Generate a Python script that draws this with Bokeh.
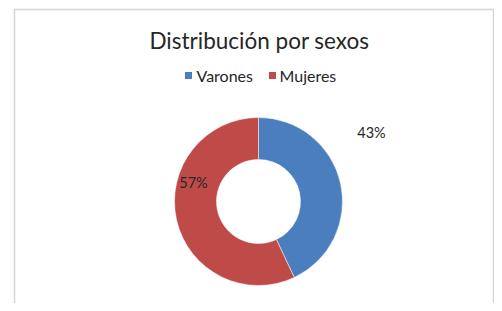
import numpy as np
from bokeh.plotting import figure
from bokeh.models import Range1d
from bokeh.core.properties import value
from bokeh.embed import file_html
from bokeh.resources import INLINE

# Data
categories = ["Varones", "Mujeres"]
shares = [43, 57]
labels = ["43%", "57%"]
colors = ["#4A7EBF", "#BF4B49"]
title_text = "Distribución por sexos"

W, H = 494, 303
p = figure(width=W, height=H, output_backend="svg", toolbar_location=None,
           x_range=Range1d(0, W), y_range=Range1d(0, H), min_border=0)
p.axis.visible = False
p.grid.visible = False
p.outline_line_color = None
p.background_fill_color = "white"

# chart frame (left, top, right edges)
p.multi_line(xs=[[14, 14, 493, 493]], ys=[[-5, 294, 294, -5]],
             line_color="#d4d4d4", line_width=1.5)

# donut
frac = np.array(shares, dtype=float) / sum(shares)
ends = np.cumsum(frac)
starts = ends - frac
start_ang = np.pi / 2 - starts * 2 * np.pi
end_ang = np.pi / 2 - ends * 2 * np.pi
cx, cy = 258, 102
p.annular_wedge(x=cx, y=cy, inner_radius=42, outer_radius=84,
                start_angle=start_ang, end_angle=end_ang, direction="clock",
                fill_color=colors, line_color="white", line_width=0.5)

# data labels
p.text(x=[371, 193], y=[171, 121], text=labels, text_align="center",
       text_baseline="middle", text_font=value("Lato"), text_font_size="14.5px",
       text_color="#262626")

# title
p.text(x=[259], y=[263], text=[title_text], text_align="center",
       text_baseline="middle", text_font=value("Lato"), text_font_size="22.5px",
       text_color="#262626")

# legend
p.scatter(x=[188, 272], y=[228, 228], marker="square", size=7,
          fill_color=colors, line_color=None)
p.text(x=[196, 279], y=[228, 228], text=categories, text_align="left",
       text_baseline="middle", text_font=value("Lato"), text_font_size="16px",
       text_color="#262626")

open("out.html", "w").write(file_html(p, INLINE))
